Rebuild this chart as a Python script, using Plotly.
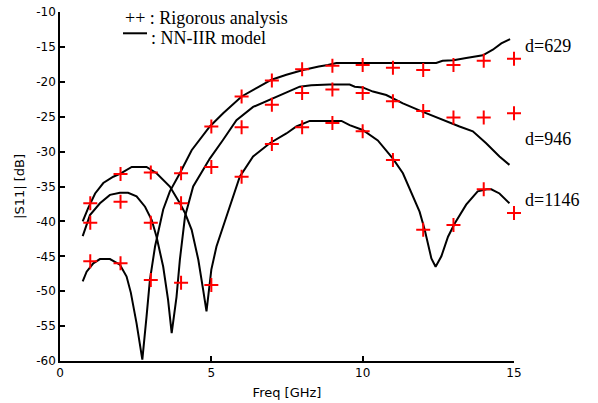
import plotly.graph_objects as go

# ---- data ----
freq_pts = [1, 2, 3, 4, 5, 6, 7, 8, 9, 10, 11, 12, 13, 14, 15]
rig_629 = [-45.7, -46.0, -48.4, -33.1, -26.4, -22.1, -19.8, -18.2, -17.7, -17.6, -18.0, -18.3, -17.6, -17.0, -16.7]
rig_946 = [-40.2, -37.2, -40.2, -48.8, -32.2, -26.5, -23.3, -21.6, -21.1, -21.6, -22.8, -24.2, -25.1, -25.1, -24.5]
rig_1146 = [-37.4, -33.2, -33.0, -37.4, -49.1, -33.6, -28.9, -26.5, -25.9, -27.1, -31.2, -41.2, -40.5, -35.4, -38.8]

nn_x_629 = [0.75, 0.88, 1.10, 1.32, 1.65, 1.98, 2.20, 2.34, 2.53, 2.72, 2.86, 2.97, 3.14, 3.41, 3.63,
            3.96, 4.35, 4.95, 5.39, 6.00, 6.49, 6.99, 7.48, 8.03, 8.55, 8.85, 9.13, 10.0, 11.0, 12.0,
            12.43, 12.64, 13.0, 13.42, 13.97, 14.3, 14.58, 14.87]
nn_y_629 = [-48.6, -47.2, -46.0, -45.4, -45.4, -46.2, -47.9, -50.2, -54.6, -59.8, -53.6, -48.4, -43.6, -38.3, -35.7,
            -33.1, -29.8, -26.4, -24.5, -22.1, -20.9, -19.7, -19.0, -18.3, -17.8, -17.6, -17.3, -17.3, -17.3, -17.3,
            -17.3, -17.0, -16.9, -16.6, -16.2, -15.4, -14.5, -13.9]

nn_x_946 = [0.75, 0.99, 1.32, 1.65, 1.98, 2.25, 2.53, 2.81, 3.03, 3.19, 3.41, 3.57, 3.69, 3.85, 3.96,
            4.13, 4.40, 4.65, 4.95, 5.39, 5.83, 6.38, 6.93, 7.48, 7.92, 8.30, 8.90, 9.57, 9.74, 10.0,
            10.34, 10.78, 11.33, 11.99, 12.65, 13.2, 13.64, 14.08, 14.52, 14.85]
nn_y_946 = [-42.1, -39.1, -37.4, -36.2, -35.9, -35.9, -36.4, -37.9, -39.8, -42.2, -46.5, -51.2, -56.0, -50.8, -45.5,
            -39.3, -35.0, -33.2, -31.0, -28.3, -25.5, -23.6, -22.6, -21.6, -20.7, -20.5, -20.4, -20.4, -20.7, -20.8,
            -21.4, -21.9, -23.1, -24.3, -25.5, -26.4, -27.1, -28.8, -30.7, -31.9]

nn_x_1146 = [0.75, 0.93, 1.16, 1.43, 1.76, 1.98, 2.37, 2.86, 3.19, 3.63, 3.96, 4.13, 4.35, 4.57, 4.73,
             4.84, 5.00, 5.17, 5.50, 5.94, 6.38, 6.93, 7.48, 7.81, 8.25, 8.91, 9.30, 9.57, 10.0, 10.5,
             11.0, 11.33, 11.66, 11.88, 12.05, 12.27, 12.41, 12.6, 12.82, 13.04, 13.42, 13.8, 14.1, 14.25,
             14.52, 14.85]
nn_y_1146 = [-40.0, -38.1, -36.0, -34.5, -33.6, -33.2, -32.2, -32.2, -33.1, -35.0, -37.4, -38.8, -41.2, -45.5, -49.8,
             -52.9, -46.9, -43.6, -39.3, -33.6, -30.7, -28.8, -27.4, -26.4, -25.6, -25.6, -25.6, -26.2, -26.9, -28.4,
             -31.0, -33.1, -36.4, -38.6, -41.2, -45.3, -46.5, -45.0, -42.2, -40.3, -37.6, -35.7, -35.4, -35.4,
             -36.0, -37.4]

x_ticks = [0, 5, 10, 15]
y_ticks = [-60, -55, -50, -45, -40, -35, -30, -25, -20, -15, -10]

fig = go.Figure()
for xs, ys, name in [(nn_x_629, nn_y_629, "d=629"), (nn_x_946, nn_y_946, "d=946"), (nn_x_1146, nn_y_1146, "d=1146")]:
    fig.add_trace(go.Scatter(x=xs, y=ys, mode="lines", name="NN-IIR " + name,
                             line=dict(color="black", width=2), showlegend=False))
for ys, name in [(rig_629, "d=629"), (rig_946, "d=946"), (rig_1146, "d=1146")]:
    fig.add_trace(go.Scatter(x=freq_pts, y=ys, mode="markers", name="Rigorous " + name,
                             marker=dict(symbol="cross-thin", size=10, color="red",
                                         line=dict(color="red", width=2)),
                             cliponaxis=False, showlegend=False))

serif = dict(family="Liberation Serif, Times New Roman, serif", size=18, color="black")

PW = 454.0  # plot-area width in px
annotations = [
    dict(text="++ : Rigorous analysis", x=63 / PW, y=0.983, xref="paper", yref="paper",
         xanchor="left", yanchor="middle", showarrow=False, font=serif),
    dict(text=": NN-IIR model", x=89 / PW, y=0.925, xref="paper", yref="paper",
         xanchor="left", yanchor="middle", showarrow=False, font=serif),
    dict(text="d=629", x=1.02, y=0.9026, xref="paper", yref="paper",
         xanchor="left", yanchor="middle", showarrow=False, font=serif),
    dict(text="d=946", x=1.02, y=0.636, xref="paper", yref="paper",
         xanchor="left", yanchor="middle", showarrow=False, font=serif),
    dict(text="d=1146", x=1.02, y=0.461, xref="paper", yref="paper",
         xanchor="left", yanchor="middle", showarrow=False, font=serif),
]

shapes = [dict(type="line", xref="paper", yref="paper", x0=63 / PW, x1=87 / PW,
               y0=0.939, y1=0.939, line=dict(color="black", width=2))]

axis_common = dict(showline=True, linecolor="black", linewidth=1.5, mirror=False,
                   ticks="inside", ticklen=5, tickwidth=1.5, tickcolor="black",
                   showgrid=False, zeroline=False, automargin=False,
                   ticklabeloverflow="allow",
                   tickfont=dict(family="DejaVu Sans, sans-serif", size=12, color="black"))

fig.update_layout(
    width=598, height=403,
    margin=dict(l=60, r=84, t=12, b=42, autoexpand=False),
    paper_bgcolor="white", plot_bgcolor="white",
    xaxis=dict(range=[0, 15], tickvals=x_ticks, ticktext=[str(v) for v in x_ticks],
               title=dict(text="Freq [GHz]", standoff=9,
                          font=dict(family="DejaVu Sans, sans-serif", size=13, color="black")),
               **axis_common),
    yaxis=dict(range=[-60, -10], tickvals=y_ticks, ticktext=[str(v) for v in y_ticks],
               title=dict(text="|S11| [dB]", standoff=9,
                          font=dict(family="DejaVu Sans, sans-serif", size=13, color="black")),
               **axis_common),
    annotations=annotations, shapes=shapes, showlegend=False,
)

fig.write_html("out.html", config={"displayModeBar": False},
               post_script="document.body.style.margin='0';document.body.style.overflow='hidden';")
